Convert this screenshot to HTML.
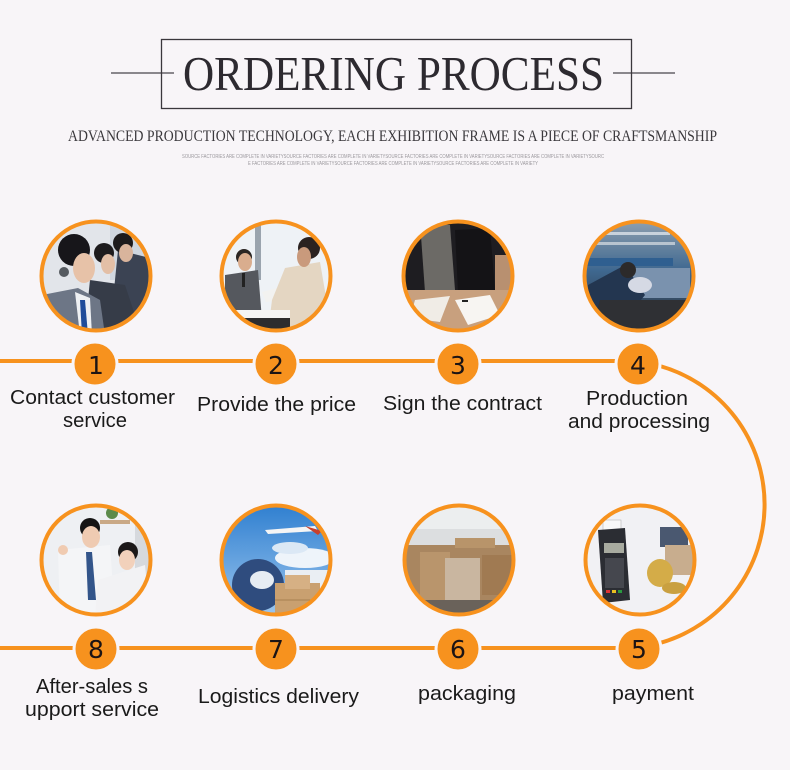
<!DOCTYPE html>
<html><head><meta charset="utf-8"><style>
html,body{margin:0;padding:0;background:#f8f5f8;}
svg{display:block;}
</style></head><body>
<svg width="790" height="770" viewBox="0 0 790 770" xmlns="http://www.w3.org/2000/svg">
<defs>
<clipPath id="c1"><circle cx="96" cy="276" r="54"/></clipPath>
<clipPath id="c2"><circle cx="276" cy="276" r="54"/></clipPath>
<clipPath id="c3"><circle cx="458" cy="276" r="54"/></clipPath>
<clipPath id="c4"><circle cx="639" cy="276" r="54"/></clipPath>
<clipPath id="c5"><circle cx="640" cy="560" r="54"/></clipPath>
<clipPath id="c6"><circle cx="459" cy="560" r="54"/></clipPath>
<clipPath id="c7"><circle cx="276" cy="560" r="54"/></clipPath>
<clipPath id="c8"><circle cx="96" cy="560" r="54"/></clipPath>
<linearGradient id="sky" x1="0" y1="0" x2="0" y2="1"><stop offset="0" stop-color="#2f7fd0"/><stop offset="1" stop-color="#9cc6ee"/></linearGradient>
<linearGradient id="fac" x1="0" y1="0" x2="0" y2="1"><stop offset="0" stop-color="#8fa0b0"/><stop offset="0.45" stop-color="#3f6890"/><stop offset="1" stop-color="#2a2d33"/></linearGradient>
<linearGradient id="wh" x1="0" y1="0" x2="0" y2="1"><stop offset="0" stop-color="#e4e6ea"/><stop offset="1" stop-color="#cfd2d6"/></linearGradient>
</defs>
<rect width="790" height="770" fill="#f8f5f8"/>

<!-- Header -->
<line x1="111" y1="73" x2="174" y2="73" stroke="#8a878c" stroke-width="2"/>
<line x1="613" y1="73" x2="675" y2="73" stroke="#8a878c" stroke-width="2"/>
<rect x="161.5" y="39.5" width="470" height="69" fill="none" stroke="#3a373c" stroke-width="1.3"/>
<text x="183" y="90" font-family="Liberation Serif, serif" font-size="49" fill="#2d2a30" textLength="421" lengthAdjust="spacingAndGlyphs">ORDERING PROCESS</text>
<text x="68" y="141" font-family="Liberation Serif, serif" font-size="15.5" fill="#3a383c" textLength="649" lengthAdjust="spacingAndGlyphs">ADVANCED PRODUCTION TECHNOLOGY, EACH EXHIBITION FRAME IS A PIECE OF CRAFTSMANSHIP</text>
<text x="182" y="158" font-family="Liberation Sans, sans-serif" font-size="5" fill="#9a979c" textLength="422" lengthAdjust="spacingAndGlyphs">SOURCE FACTORIES ARE COMPLETE IN VARIETYSOURCE FACTORIES ARE COMPLETE IN VARIETYSOURCE FACTORIES ARE COMPLETE IN VARIETYSOURCE FACTORIES ARE COMPLETE IN VARIETYSOURC</text>
<text x="248" y="165" font-family="Liberation Sans, sans-serif" font-size="5" fill="#9a979c" textLength="290" lengthAdjust="spacingAndGlyphs">E FACTORIES ARE COMPLETE IN VARIETYSOURCE FACTORIES ARE COMPLETE IN VARIETYSOURCE FACTORIES ARE COMPLETE IN VARIETY</text>

<!-- connector lines -->
<line x1="0" y1="361" x2="620" y2="361" stroke="#f7921e" stroke-width="4"/>
<line x1="0" y1="648" x2="620" y2="648" stroke="#f7921e" stroke-width="4"/>
<path d="M 660 366 A 144 144 0 0 1 660 643" fill="none" stroke="#f7921e" stroke-width="4"/>

<!-- Image 1: call center -->
<g clip-path="url(#c1)">
<rect x="40" y="220" width="112" height="112" fill="#e2e5ea"/>
<rect x="110" y="220" width="40" height="60" fill="#cfd6df"/>
<path d="M118 250 L150 258 L155 330 L110 330 Z" fill="#3b4353"/>
<circle cx="123" cy="243" r="10" fill="#1c1a1c"/>
<ellipse cx="126" cy="253" rx="7" ry="9" fill="#d9b49c"/>
<path d="M90 280 L125 285 L140 330 L85 330 Z" fill="#363c48"/>
<circle cx="104" cy="253" r="10" fill="#1d1b1d"/>
<ellipse cx="108" cy="264" rx="7" ry="10" fill="#e3bfa6"/>
<path d="M42 295 L78 288 L100 300 L105 335 L40 335 Z" fill="#6d7686"/>
<path d="M75 292 L90 298 L92 335 L80 335 Z" fill="#eef0f3"/>
<path d="M80 300 L85 300 L88 335 L82 335 Z" fill="#1f4c9a"/>
<circle cx="74" cy="250" r="16" fill="#17161a"/>
<ellipse cx="84" cy="268" rx="11" ry="15" fill="#e7c2a8"/>
<circle cx="64" cy="272" r="5" fill="#555a60"/>
</g>
<circle cx="96" cy="276" r="54.5" fill="none" stroke="#f7921e" stroke-width="4"/>

<!-- Image 2: price -->
<g clip-path="url(#c2)">
<rect x="220" y="220" width="112" height="112" fill="#eef2f6"/>
<rect x="255" y="220" width="6" height="60" fill="#9aa4ae"/>
<rect x="285" y="285" width="30" height="8" fill="#8aa0b8"/>
<path d="M225 275 L258 270 L262 320 L225 320 Z" fill="#55585e"/>
<circle cx="244" cy="257" r="8" fill="#2a2624"/>
<ellipse cx="245" cy="262" rx="7" ry="9" fill="#d9ad8e"/>
<rect x="242" y="273" width="3" height="14" fill="#222"/>
<path d="M262 292 L300 282 L300 298 L266 302 Z" fill="#f2f2f0"/>
<path d="M285 268 L320 262 L332 332 L268 332 L272 300 Z" fill="#e4d6c2"/>
<circle cx="309" cy="248" r="11" fill="#2a2220"/>
<ellipse cx="304" cy="257" rx="7" ry="10" fill="#c99a7c"/>
<rect x="220" y="310" width="70" height="22" fill="#f4f4f4"/>
<rect x="230" y="318" width="60" height="14" fill="#2c2c2e"/>
</g>
<circle cx="276" cy="276" r="54.5" fill="none" stroke="#f7921e" stroke-width="4"/>

<!-- Image 3: contract -->
<g clip-path="url(#c3)">
<rect x="402" y="220" width="112" height="112" fill="#1e1d21"/>
<path d="M420 222 L450 225 L455 290 L425 292 Z" fill="#6c6a66"/>
<path d="M455 230 L490 228 L495 290 L458 292 Z" fill="#141316"/>
<rect x="495" y="255" width="20" height="45" fill="#b89070"/>
<rect x="402" y="290" width="112" height="45" fill="#c8a07e"/>
<path d="M415 300 L450 296 L440 322 L410 318 Z" fill="#f0ece6"/>
<path d="M455 300 L490 295 L500 315 L468 325 Z" fill="#f7f5f2"/>
<rect x="462" y="300" width="6" height="2" fill="#222"/>
</g>
<circle cx="458" cy="276" r="54.5" fill="none" stroke="#f7921e" stroke-width="4"/>

<!-- Image 4: production -->
<g clip-path="url(#c4)">
<rect x="583" y="220" width="112" height="112" fill="url(#fac)"/>
<rect x="600" y="232" width="70" height="3" fill="#c8d2dc"/>
<rect x="595" y="242" width="80" height="3" fill="#b8c4d0"/>
<rect x="583" y="258" width="90" height="8" fill="#2f5f90"/>
<rect x="630" y="268" width="60" height="30" fill="#7a92ae"/>
<path d="M588 285 L625 265 L645 295 L625 320 L588 320 Z" fill="#233650"/>
<circle cx="628" cy="270" r="8" fill="#2c2a2a"/>
<ellipse cx="640" cy="285" rx="12" ry="8" fill="#d5d9e4"/>
<path d="M600 300 L690 300 L695 335 L590 335 Z" fill="#2f3034"/>
</g>
<circle cx="639" cy="276" r="54.5" fill="none" stroke="#f7921e" stroke-width="4"/>

<!-- Image 8: after-sales -->
<g clip-path="url(#c8)">
<rect x="40" y="504" width="112" height="112" fill="#eef0f3"/>
<rect x="135" y="504" width="20" height="112" fill="#d6d9dd"/>
<rect x="100" y="520" width="30" height="4" fill="#c9a986"/>
<circle cx="112" cy="513" r="6" fill="#5b8a4a"/>
<path d="M58 550 L110 545 L115 616 L60 616 Z" fill="#f4f5f7"/>
<path d="M86 552 L92 552 L96 600 L88 600 Z" fill="#33558a"/>
<circle cx="90" cy="528" r="10" fill="#151414"/>
<ellipse cx="91" cy="537" rx="9" ry="11" fill="#efcbb2"/>
<circle cx="63" cy="550" r="5" fill="#f0cbb1"/>
<path d="M98 580 L145 565 L150 616 L95 616 Z" fill="#f2f2f4"/>
<circle cx="128" cy="552" r="10" fill="#1b1818"/>
<ellipse cx="127" cy="560" rx="8" ry="10" fill="#f2d1bb"/>
</g>
<circle cx="96" cy="560" r="54.5" fill="none" stroke="#f7921e" stroke-width="4"/>

<!-- Image 7: logistics -->
<g clip-path="url(#c7)">
<rect x="220" y="504" width="112" height="112" fill="url(#sky)"/>
<ellipse cx="305" cy="558" rx="30" ry="10" fill="#eef4fa"/>
<ellipse cx="290" cy="548" rx="18" ry="6" fill="#dbe8f5"/>
<rect x="285" y="570" width="47" height="40" fill="#eaeef3"/>
<path d="M265 530 L315 526 L318 531 L268 534 Z" fill="#f5f5f5"/>
<path d="M305 526 L322 531 L318 535 Z" fill="#c8402c"/>
<circle cx="258" cy="585" r="26" fill="#2f4c7e"/>
<ellipse cx="262" cy="580" rx="12" ry="9" fill="#e6ecf3"/>
<rect x="275" y="583" width="45" height="35" fill="#c9a070"/>
<rect x="285" y="575" width="25" height="14" fill="#d6b084"/>
<line x1="275" y1="600" x2="320" y2="600" stroke="#a88050" stroke-width="1"/>
</g>
<circle cx="276" cy="560" r="54.5" fill="none" stroke="#f7921e" stroke-width="4"/>

<!-- Image 6: packaging -->
<g clip-path="url(#c6)">
<rect x="403" y="504" width="112" height="112" fill="#dcdee0"/>
<rect x="403" y="504" width="112" height="25" fill="#eceeef"/>
<rect x="405" y="545" width="110" height="55" fill="#a98660"/>
<rect x="455" y="538" width="40" height="10" fill="#b8946a"/>
<rect x="420" y="552" width="30" height="48" fill="#b9956c"/>
<rect x="445" y="558" width="35" height="48" fill="#c9b6a0"/>
<rect x="482" y="555" width="30" height="40" fill="#a07a52"/>
<rect x="403" y="600" width="112" height="20" fill="#6a625a"/>
</g>
<circle cx="459" cy="560" r="54.5" fill="none" stroke="#f7921e" stroke-width="4"/>

<!-- Image 5: payment -->
<g clip-path="url(#c5)">
<rect x="584" y="504" width="112" height="112" fill="#f1f1f4"/>
<rect x="603" y="520" width="18" height="20" fill="#f8f8f8" stroke="#aaa" stroke-width="0.5"/>
<path d="M598 530 L625 528 L630 600 L603 603 Z" fill="#2b2d33"/>
<rect x="604" y="543" width="20" height="10" fill="#a8aba0"/>
<rect x="605" y="558" width="19" height="30" fill="#45474e"/>
<rect x="606" y="590" width="4" height="3" fill="#d33"/>
<rect x="612" y="590" width="4" height="3" fill="#e8c020"/>
<rect x="618" y="590" width="4" height="3" fill="#2a9a40"/>
<rect x="660" y="527" width="28" height="20" fill="#4a5870"/>
<rect x="665" y="545" width="30" height="30" fill="#c8ad8e"/>
<ellipse cx="660" cy="573" rx="13" ry="14" fill="#d4ac48"/>
<ellipse cx="674" cy="588" rx="12" ry="6" fill="#c9a040"/>
</g>
<circle cx="640" cy="560" r="54.5" fill="none" stroke="#f7921e" stroke-width="4"/>

<!-- number badges -->
<g stroke="#f8f5f8" stroke-width="3" fill="#f7921e">
<circle cx="95" cy="364" r="22"/>
<circle cx="276" cy="364" r="22"/>
<circle cx="458" cy="364" r="22"/>
<circle cx="638" cy="364" r="22"/>
<circle cx="96" cy="649" r="22"/>
<circle cx="276" cy="649" r="22"/>
<circle cx="458" cy="649" r="22"/>
<circle cx="639" cy="649" r="22"/>
</g>
<g font-family="DejaVu Sans, Liberation Sans, sans-serif" font-size="25" fill="#1c1414" text-anchor="middle">
<text x="96" y="374">1</text>
<text x="276" y="374">2</text>
<text x="458" y="374">3</text>
<text x="638" y="374">4</text>
<text x="96" y="658">8</text>
<text x="276" y="658">7</text>
<text x="458" y="658">6</text>
<text x="639" y="658">5</text>
</g>

<!-- labels -->
<g font-family="Liberation Sans, sans-serif" font-size="20" fill="#1a1a1a">
<text x="10" y="404" textLength="165" lengthAdjust="spacingAndGlyphs">Contact customer</text>
<text x="63" y="427" textLength="64" lengthAdjust="spacingAndGlyphs">service</text>
<text x="197" y="411" textLength="159" lengthAdjust="spacingAndGlyphs">Provide the price</text>
<text x="383" y="410" textLength="159" lengthAdjust="spacingAndGlyphs">Sign the contract</text>
<text x="586" y="405" textLength="102" lengthAdjust="spacingAndGlyphs">Production</text>
<text x="568" y="428" textLength="142" lengthAdjust="spacingAndGlyphs">and processing</text>
<text x="36" y="693" textLength="112" lengthAdjust="spacingAndGlyphs">After-sales s</text>
<text x="25" y="716" textLength="134" lengthAdjust="spacingAndGlyphs">upport service</text>
<text x="198" y="703" textLength="161" lengthAdjust="spacingAndGlyphs">Logistics delivery</text>
<text x="418" y="700" textLength="98" lengthAdjust="spacingAndGlyphs">packaging</text>
<text x="612" y="700" textLength="82" lengthAdjust="spacingAndGlyphs">payment</text>
</g>
</svg>
</body></html>
